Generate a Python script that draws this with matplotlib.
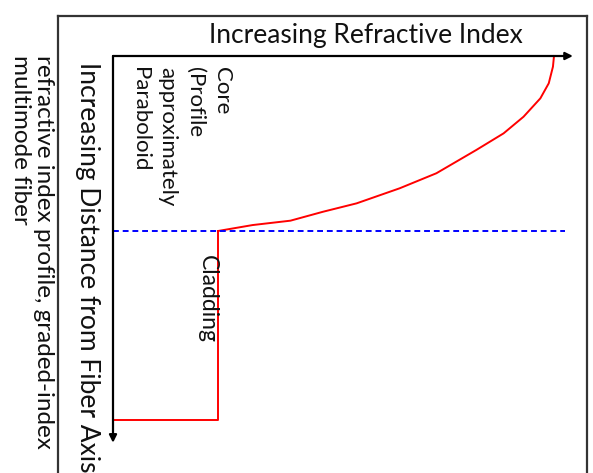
import matplotlib
matplotlib.use("Agg")
import matplotlib.pyplot as plt
from matplotlib.lines import Line2D

# --- data: graded-index profile (index in units of cladding index, distance in core radii) ---
core_distance = [0.0, 0.061, 0.156, 0.242, 0.347, 0.442, 0.537, 0.670, 0.756,
                 0.842, 0.890, 0.941, 0.966, 1.0]
core_index = [4.20, 4.19, 4.15, 4.07, 3.91, 3.72, 3.46, 3.08, 2.73,
              2.32, 2.00, 1.69, 1.33, 1.00]
cladding_distance = [1.0, 2.08, 2.08]
cladding_index = [1.00, 1.00, 0.0]
boundary_distance = 1.0
boundary_extent = 4.30
axis_index_max = 4.38
axis_distance_max = 2.21

W, H = 593, 473
FONT = "Lato"

fig = plt.figure(figsize=(W / 100, H / 100), dpi=100)
ax = fig.add_axes([0, 0, 1, 1])
ax.set_xlim(-113 / 105, (W - 113) / 105)
ax.set_ylim((H - 56) / 175, -56 / 175)
ax.axis("off")

# outer frame (open at the bottom)
def fx(p): return p / W
def fy(p): return 1 - p / H
for xs, ys in [([58, 58], [16, H + 5]), ([58, 587], [16, 16]), ([587, 587], [16, H + 5])]:
    fig.add_artist(Line2D([fx(v) for v in xs], [fy(v) for v in ys],
                          transform=fig.transFigure, color="#333333", lw=1.6))

# axes arrows
arrow = dict(arrowstyle="-|>", color="black", lw=1.6, mutation_scale=11, shrinkA=0, shrinkB=0)
ax.annotate("", xy=(axis_index_max, 0), xytext=(0, 0), arrowprops=arrow)
ax.annotate("", xy=(0, axis_distance_max), xytext=(0, 0), arrowprops=arrow)

# profile
ax.plot(core_index, core_distance, color="#ff0000", lw=1.4)
ax.plot(cladding_index, cladding_distance, color="#ff0000", lw=1.4)
ax.plot([0, boundary_extent], [boundary_distance, boundary_distance],
        color="#0000ff", lw=1.4, linestyle=(0, (3, 2)))

# labels
txt = dict(family=FONT, color="#111111")
fig.text(fx(366), fy(35), "Increasing Refractive Index",
         fontsize=19, ha="center", va="center", **txt)
fig.text(fx(100), fy(62), "Increasing Distance from Fiber Axis",
         fontsize=19, rotation=-90, rotation_mode="anchor", ha="left", va="top", **txt)
fig.text(fx(54), fy(55), "refractive index profile, graded-index\nmultimode fiber",
         fontsize=17.5, rotation=-90, rotation_mode="anchor",
         ha="left", va="top", linespacing=1.1, **txt)
fig.text(fx(232), fy(67), "Core\n(Profile\napproximately\nParaboloid",
         fontsize=16, rotation=-90, rotation_mode="anchor",
         ha="left", va="top", linespacing=1.45, **txt)
fig.text(fx(218), fy(255), "Cladding", fontsize=16.5, rotation=-90,
         rotation_mode="anchor", ha="left", va="top", **txt)

fig.savefig("out.png", dpi=100)
